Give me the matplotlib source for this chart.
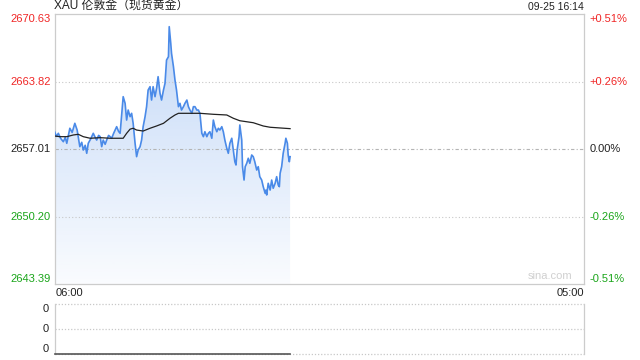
import numpy as np
import matplotlib as mpl
mpl.use("Agg")
import matplotlib.pyplot as plt
from matplotlib.patches import Polygon

# --- data -------------------------------------------------------------------
title = "XAU 伦敦金（现货黄金）"
stamp = "09-25 16:14"
x_labels = ["06:00", "05:00"]
session_minutes = 1380          # 06:00 -> 05:00 next day

price_ticks = [2670.63, 2663.82, 2657.01, 2650.20, 2643.39]
pct_ticks = ["+0.51%", "+0.26%", "0.00%", "-0.26%", "-0.51%"]
prev_close = 2657.01

# minute offsets from 06:00 and last price
minutes = [0, 5, 10, 16, 23, 28, 32, 40, 46, 53, 59, 66, 71, 75, 80, 84, 88,
           95, 101, 106, 110, 115, 119, 123, 127, 132, 136, 141, 145, 149,
           154, 158, 162, 167, 171, 179, 184, 188, 192, 197, 201, 205, 210,
           214, 218, 223, 227, 231, 236, 240, 244, 249, 253, 257, 262, 266,
           270, 275, 279, 284, 288, 292, 297, 299, 303, 305, 310, 314, 318,
           323, 327, 331, 336, 340, 345, 349, 353, 358, 362, 366, 371, 375,
           379, 384, 388, 392, 397, 401, 405, 410, 414, 418, 423, 427, 431,
           436, 440, 444, 449, 453, 457, 462, 466, 470, 473, 476, 481, 483,
           488, 490, 494, 497, 501, 505, 509, 514, 518, 522, 527, 531, 535,
           540, 544, 549, 551, 553, 557, 562, 566, 570, 575, 579, 583, 586,
           588, 592, 596, 601, 603, 607, 609, 612, 614]
prices = [2658.80, 2658.30, 2658.61, 2658.10, 2657.76, 2658.20, 2657.60,
          2659.12, 2658.70, 2659.62, 2658.94, 2657.26, 2657.70, 2656.92,
          2657.40, 2656.59, 2657.60, 2658.10, 2658.61, 2658.20, 2657.93,
          2658.40, 2658.27, 2657.26, 2657.93, 2657.50, 2657.93, 2658.40,
          2658.27, 2658.11, 2658.60, 2658.94, 2659.28, 2658.80, 2658.61,
          2662.31, 2661.64, 2659.95, 2660.96, 2660.29, 2660.63, 2659.62,
          2657.60, 2656.25, 2656.92, 2657.26, 2657.93, 2659.28, 2660.29,
          2661.30, 2662.98, 2663.32, 2661.97, 2663.32, 2662.31, 2663.16,
          2664.33, 2662.65, 2661.97, 2662.98, 2663.66, 2666.01, 2666.35,
          2669.38, 2667.70, 2666.69, 2665.34, 2663.99, 2662.98, 2661.30,
          2661.64, 2660.96, 2661.30, 2661.64, 2661.97, 2661.30, 2660.96,
          2660.63, 2661.30, 2661.30, 2660.96, 2660.96, 2660.63, 2658.61,
          2658.27, 2658.77, 2658.27, 2658.61, 2658.77, 2658.11, 2659.95,
          2659.28, 2658.77, 2659.12, 2658.94, 2659.28, 2658.77, 2657.93,
          2657.10, 2656.59, 2657.60, 2658.11, 2656.92, 2655.74, 2655.41,
          2656.92, 2658.27, 2659.45, 2657.93, 2655.24, 2653.89, 2655.24,
          2655.58, 2656.09, 2655.58, 2656.42, 2656.25, 2655.74, 2654.90,
          2655.24, 2654.23, 2653.89, 2653.22, 2652.55, 2652.88, 2652.38,
          2653.56, 2652.88, 2653.89, 2653.06, 2653.56, 2654.23, 2653.39,
          2653.22, 2654.57, 2655.24, 2656.59, 2657.60, 2658.11, 2657.60,
          2656.42, 2655.74, 2656.25]

# running average price line
avg_minutes = [0, 14, 32, 49, 62, 75, 93, 119, 145, 179, 188, 197, 205, 214,
               231, 249, 266, 284, 301, 314, 323, 345, 379, 414, 449, 466,
               483, 518, 544, 562, 588, 614]
avg_prices = [2658.34, 2658.27, 2658.27, 2658.44, 2658.51, 2658.27, 2658.11,
              2658.17, 2658.11, 2658.11, 2658.61, 2659.03, 2659.12, 2658.94,
              2658.84, 2659.12, 2659.35, 2659.62, 2660.13, 2660.46, 2660.63,
              2660.63, 2660.63, 2660.53, 2660.46, 2660.13, 2659.88, 2659.68,
              2659.35, 2659.22, 2659.15, 2659.08]

volume = [0] * len(minutes)
vol_labels = ["0", "0", "0"]

# --- styling -----------------------------------------------------------------
RED = "#f02626"
GREEN = "#1aa51a"
BLACK = "#222222"
BORDER = "#cccccc"
LINE = "#4a8ae8"
plt.rcParams["font.family"] = ["Liberation Sans", "Noto Sans CJK SC", "DejaVu Sans"]
label_colors = [RED, RED, BLACK, GREEN, GREEN]

fig = plt.figure(figsize=(6.4, 3.6), dpi=100)
ax = fig.add_axes([54.5 / 640, 1 - 284 / 360, (584 - 54.5) / 640, (284 - 14.3) / 360])
axv = fig.add_axes([54.5 / 640, 1 - 354 / 360, (584 - 54.5) / 640, 50 / 360])

ymin, ymax = price_ticks[-1], price_ticks[0]
ax.set_xlim(0, session_minutes)
ax.set_ylim(ymin, ymax)

# gradient fill under the price line
grad = np.linspace(0.34, 0.03, 256).reshape(-1, 1)
rgba = np.zeros((256, 1, 4))
rgba[..., :3] = mpl.colors.to_rgb(LINE)
rgba[..., 3] = grad
img = ax.imshow(rgba, extent=[0, session_minutes, ymin, ymax], aspect="auto",
                origin="upper", zorder=1)
poly = Polygon(list(zip(minutes, prices)) + [(minutes[-1], ymin), (minutes[0], ymin)],
               closed=True, facecolor="none", edgecolor="none")
ax.add_patch(poly)
img.set_clip_path(poly)

# grid lines
for p in (price_ticks[1], price_ticks[3]):
    ax.axhline(p, color="#c8c8c8", lw=0.8, ls=(0, (1, 2)), zorder=2)
ax.axhline(prev_close, color="#b4b4b4", lw=0.8, ls=(0, (3, 2, 1, 2)), zorder=2)

ax.plot(minutes, prices, color=LINE, lw=1.2, zorder=4)
ax.plot(avg_minutes, avg_prices, color="#222222", lw=0.9, zorder=5)

for s in ax.spines.values():
    s.set_color(BORDER)
    s.set_linewidth(0.9)
ax.set_xticks([])
ax.set_yticks([])

# axis labels
ytr = ax.get_yaxis_transform()
for i, (p, pc, c) in enumerate(zip(price_ticks, pct_ticks, label_colors)):
    va = "top" if i == 0 else ("bottom" if i == len(price_ticks) - 1 else "center")
    ax.text(-0.007, p, f"{p:.2f}", transform=ytr, ha="right", va=va,
            color=c, fontsize=8)
    ax.text(1.011, p, pc, transform=ytr, ha="left", va=va, color=c, fontsize=8)

ax.text(0.002, -0.015, x_labels[0], transform=ax.transAxes, ha="left", va="top",
        fontsize=8, color=BLACK)
ax.text(1.0, -0.015, x_labels[1], transform=ax.transAxes, ha="right", va="top",
        fontsize=8, color=BLACK)
ax.text(0.0, 1.01, title, transform=ax.transAxes, ha="left", va="bottom",
        fontsize=8.6, color=BLACK)
ax.text(1.0, 1.01, stamp, transform=ax.transAxes, ha="right", va="bottom",
        fontsize=7.5, color=BLACK)
ax.text(0.978, 0.012, "sina.com", transform=ax.transAxes, ha="right", va="bottom",
        fontsize=8, color="#d0d0d0")

# volume panel
axv.set_xlim(0, session_minutes)
axv.set_ylim(0, 2)
axv.set_xticks([])
axv.set_yticks([])
for k in ("left", "right"):
    axv.spines[k].set_color(BORDER)
    axv.spines[k].set_linewidth(0.9)
for k in ("top", "bottom"):
    axv.spines[k].set_visible(False)
axv.axhline(2, color="#c8c8c8", lw=0.9, ls=(0, (1, 1.5)), clip_on=False)
axv.axhline(1, color="#c8c8c8", lw=0.9, ls=(0, (1, 1.5)))
axv.axhline(0, color="#c8c8c8", lw=0.9, ls=(0, (1, 1.5)), clip_on=False)
axv.plot(minutes, volume, color="#555555", lw=1.2, clip_on=False, zorder=3)
vtr = axv.get_yaxis_transform()
for v, lab, va in zip([2, 1, 0], vol_labels, ["top", "center", "bottom"]):
    axv.text(-0.01, v, lab, transform=vtr, ha="right", va=va, fontsize=8, color=BLACK)

fig.savefig("out.png", dpi=100)
